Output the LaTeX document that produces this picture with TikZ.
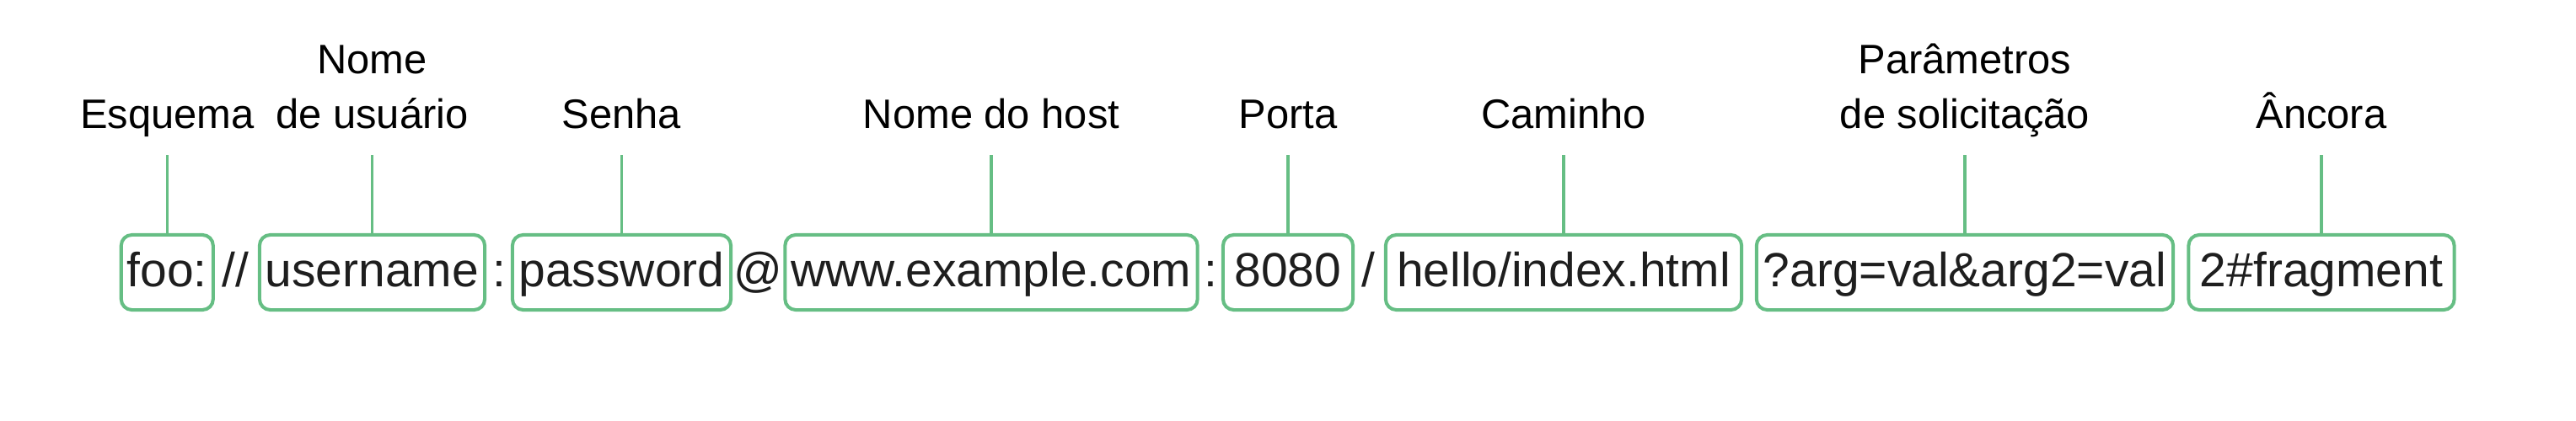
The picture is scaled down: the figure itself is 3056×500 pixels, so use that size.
\documentclass[tikz,border=0pt]{standalone}
\usepackage{fontspec}
\setmainfont{Liberation Sans}
\definecolor{urlgreen}{RGB}{102,190,132}
\definecolor{urlink}{RGB}{30,30,30}

\begin{document}
\begin{tikzpicture}[
        x=0.01cm, y=-0.01cm,
        part/.style={draw=urlgreen, line width=1.15pt, rounded corners=3.6pt,
            inner sep=0pt, minimum height=0.89cm,
            text height=0.41cm, text depth=0.08cm, text=urlink,
            font=\fontsize{16.2}{19}\selectfont},
        sep/.style={inner sep=0pt, text height=0.41cm, text depth=0.08cm,
            text=urlink, font=\fontsize{16.2}{19}\selectfont},
        lab/.style={anchor=base, align=center, font=\fontsize{13.9}{18.2}\selectfont},
        link/.style={draw=urlgreen, line width=0.95pt}
    ]

        % page size
        \useasboundingbox (0,0) rectangle (3056,500);
        \coordinate (row) at (0,152);
        \coordinate (tick) at (0,184);

        % parts of the address
        \node[part, minimum width=1.09cm] (scheme) at (198.3,323.5) {foo:};
        \node[sep] (slashes) at (279,323.5) {//};
        \node[part, minimum width=2.67cm] (user) at (441.5,323.5) {username};
        \node[sep] (colon1) at (592,323.5) {:};
        \node[part, minimum width=2.59cm] (pass) at (737.5,323.5) {password};
        \node[sep] (at) at (899.5,323.5) {@};
        \node[part, minimum width=4.89cm] (host) at (1176,323.5) {www.example.com};
        \node[sep] (colon2) at (1436,323.5) {:};
        \node[part, minimum width=1.54cm] (port) at (1528,323.5) {8080};
        \node[sep] (slash) at (1623,323.5) {/};
        \node[part, minimum width=4.22cm] (path) at (1855,323.5) {hello/index.html};
        \node[part, minimum width=4.94cm] (query) at (2331,323.5) {?arg=val\&arg2=val};
        \node[part, minimum width=3.15cm] (frag) at (2754,323.5) {2\#fragment};

        % labels (base = last line)
        \node[lab] (lscheme) at (scheme.north |- row) {Esquema};
        \node[lab] (luser) at (user.north |- row) {Nome\\de usuário};
        \node[lab] (lpass) at (pass.north |- row) {Senha};
        \node[lab] (lhost) at (host.north |- row) {Nome do host};
        \node[lab] (lport) at (port.north |- row) {Porta};
        \node[lab] (lpath) at (path.north |- row) {Caminho};
        \node[lab] (lquery) at (query.north |- row) {Parâmetros\\de solicitação};
        \node[lab] (lfrag) at (frag.north |- row) {Âncora};

        % ticks
        \foreach \p in {scheme,user,pass,host,port,path,query,frag}
            \draw[link] (\p.north) -- (\p.north |- tick);

    \end{tikzpicture}
\end{document}
